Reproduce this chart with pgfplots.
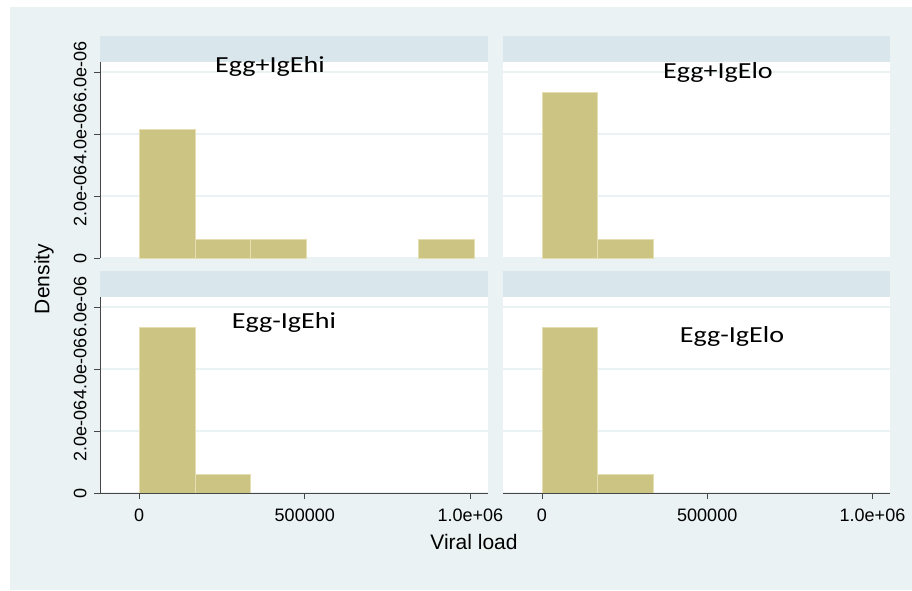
\documentclass[border=0pt]{standalone}
\usepackage{graphicx}
\usepackage{pgfplots}
\pgfplotsset{compat=1.18}
\usepackage{fontspec}
\setmainfont{Liberation Sans}
\newfontfamily\calibri{Carlito}
\definecolor{bgc}{RGB}{234,242,243}
\definecolor{stripc}{RGB}{217,230,235}
\definecolor{barc}{RGB}{204,196,131}
\definecolor{baredge}{RGB}{228,222,178}
\definecolor{gridc}{RGB}{234,242,243}
\definecolor{axc}{RGB}{70,70,70}

\pgfplotsset{
 panel/.style={
  scale only axis, width=388pt, height=196pt,
  xmin=-118000, xmax=1053000, ymin=0, ymax=6.32e-6,
  axis background/.style={fill=white},
  ymajorgrids, grid style={gridc, line width=1.2pt},
  ytick={0,2e-6,4e-6,6e-6},
  yticklabels={0,2.0e-06,4.0e-06,6.0e-06},
  xtick={0,500000,1000000},
  xticklabels={0,500000,1.0e+06},
  scaled ticks=false,
  tickpos=left,
  tick align=outside, major tick length=6pt,
  tick style={axc, line width=0.8pt},
  axis line style={draw=none},
  ticklabel style={font=\fontsize{18}{20}\selectfont, text=black},
  yticklabel style={xshift=-4pt, rotate=90, anchor=south},
  xticklabel style={yshift=-6pt},
 },
 noy/.style={ytick style={draw=none}, yticklabels={}},
 nox/.style={xtick=\empty},
}

\pgfplotstableread{
x y
0 4.149e-6
168700 5.928e-7
337400 5.928e-7
506100 0
}\tlA
\pgfplotstableread{
x y
843500 5.928e-7
1012200 0
}\tlB
\pgfplotstableread{
x y
0 5.335e-6
168700 5.928e-7
337400 0
}\other

\begin{document}
\begin{tikzpicture}[x=1pt,y=1pt]
\fill[white] (0,0) rectangle (912,590);
\fill[bgc] (10,0) rectangle (912,583);
% strips
\fill[stripc] (100,528) rectangle (488,554);
\fill[stripc] (503,528) rectangle (890,554);
\fill[stripc] (100,293) rectangle (488,319);
\fill[stripc] (503,293) rectangle (890,319);

% top-left
\begin{axis}[panel, nox, at={(100pt,332pt)}, anchor=south west]
\addplot[ybar interval, fill=barc, draw=baredge, line width=0.8pt] table {\tlA};
\addplot[ybar interval, fill=barc, draw=baredge, line width=0.8pt] table {\tlB};
\draw[axc, line width=1pt] (rel axis cs:0,0) -- (rel axis cs:0,1);
\end{axis}

% top-right
\begin{axis}[panel, nox, noy, at={(503pt,332pt)}, anchor=south west, width=387pt]
\addplot[ybar interval, fill=barc, draw=baredge, line width=0.8pt] table {\other};
\end{axis}

% bottom-left
\begin{axis}[panel, at={(100pt,97pt)}, anchor=south west]
\addplot[ybar interval, fill=barc, draw=baredge, line width=0.8pt] table {\other};
\draw[axc, line width=1pt] (rel axis cs:0,0) -- (rel axis cs:0,1);
\draw[axc, line width=1pt] (rel axis cs:0,0) -- (rel axis cs:1,0);
\end{axis}

% bottom-right
\begin{axis}[panel, noy, at={(503pt,97pt)}, anchor=south west, width=387pt]
\addplot[ybar interval, fill=barc, draw=baredge, line width=0.8pt] table {\other};
\draw[axc, line width=1pt] (rel axis cs:0,0) -- (rel axis cs:1,0);
\end{axis}

% panel titles
\node[anchor=base, inner sep=0pt] at (270,517) {\scalebox{1.22}[1]{\calibri\fontsize{23}{26}\selectfont Egg+IgEhi}};
\node[anchor=base, inner sep=0pt] at (718,511) {\scalebox{1.22}[1]{\calibri\fontsize{23}{26}\selectfont Egg+IgElo}};
\node[anchor=base, inner sep=0pt] at (284,262) {\scalebox{1.22}[1]{\calibri\fontsize{23}{26}\selectfont Egg-IgEhi}};
\node[anchor=base, inner sep=0pt] at (732,248) {\scalebox{1.22}[1]{\calibri\fontsize{23}{26}\selectfont Egg-IgElo}};

% axis titles
\node[rotate=90, inner sep=0pt, font=\fontsize{21}{24}\selectfont] at (44,311) {Density};
\node[inner sep=0pt, font=\fontsize{21}{24}\selectfont] at (474,48) {Viral load};
\end{tikzpicture}
\end{document}
